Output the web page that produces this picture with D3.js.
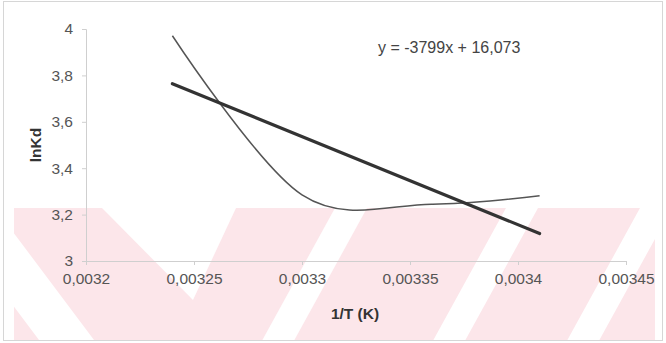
<!DOCTYPE html>
<html>
<head>
<meta charset="utf-8">
<script src="https://cdn.jsdelivr.net/npm/d3@7"></script>
<style>
  html, body { margin: 0; padding: 0; background: #fff; }
  svg { display: block; }
</style>
</head>
<body>
<svg id="chart" width="666" height="343"></svg>
<script>
// Measured values: ln Kd against reciprocal temperature
const invT = [0.00324, 0.0033, 0.00336, 0.00341];
const lnKd = [3.971, 3.285, 3.245, 3.281];

// Linear trendline fitted to the points
const slope = -3799;
const intercept = 16.073;

const xTicks = [0.0032, 0.00325, 0.0033, 0.00335, 0.0034, 0.00345];
const yTicks = [3, 3.2, 3.4, 3.6, 3.8, 4];

const xTitle = "1/T (K)";
const yTitle = "lnKd";
const equationText = "y = -3799x + 16,073";

const svg = d3.select("#chart");
const font = "'Liberation Sans', Arial, sans-serif";

const x = d3.scaleLinear().domain([0.0032, 0.00345]).range([86, 626]);
const y = d3.scaleLinear().domain([3, 4]).range([261, 29]);

const comma = d => String(d).replace(".", ",");

// Light pink diagonal background emblem in the lower part of the frame
const band = svg.append("g");
const bandTop = 208, bandBot = 341, bh = bandBot - bandTop;
band.append("rect")
  .attr("x", 14).attr("y", bandTop)
  .attr("width", 641).attr("height", bh)
  .attr("fill", "#fce6ea");
const poly = p => "M" + p.map(q => q.join(",")).join("L") + "Z";
// gap slanting down-right on the left
const kL = 0.75;
band.append("path")
  .attr("d", poly([[-60, bandTop], [-5, bandTop], [-5 + kL * bh, bandBot], [-60 + kL * bh, bandBot]]))
  .attr("fill", "#fff");
// V-shaped notch
band.append("path")
  .attr("d", poly([[102, bandTop], [236, bandTop], [193, 300]]))
  .attr("fill", "#fff");
// gaps slanting up-right
const kR = 0.55;
[[335, 32], [506, 32], [640, 32]].forEach(([a, w]) => {
  band.append("path")
    .attr("d", poly([[a, bandTop], [a + w, bandTop], [a + w - kR * bh, bandBot], [a - kR * bh, bandBot]]))
    .attr("fill", "#fff");
});

// Chart frame
svg.append("rect")
  .attr("x", 3.5).attr("y", 1.5)
  .attr("width", 659).attr("height", 339)
  .attr("fill", "none").attr("stroke", "#d6d6d6").attr("stroke-width", 1);

// Axes
const xAxis = d3.axisBottom(x).tickValues(xTicks).tickFormat(comma).tickSize(4).tickPadding(8);
const yAxis = d3.axisLeft(y).tickValues(yTicks).tickFormat(comma).tickSize(4).tickPadding(9);

const gx = svg.append("g").attr("transform", `translate(0,${y(3)})`).call(xAxis);
const gy = svg.append("g").attr("transform", `translate(${x(0.0032)},0)`).call(yAxis);

[gx, gy].forEach(g => {
  g.select(".domain").attr("stroke", "#cfcfcf");
  g.selectAll(".tick line").attr("stroke", "#cfcfcf");
  g.selectAll(".tick text")
    .attr("fill", "#555")
    .style("font-family", font)
    .style("font-size", "15.5px");
});

// Smoothed data curve
const pts = invT.map((v, i) => [x(v), y(lnKd[i])]);
svg.append("path")
  .attr("d", d3.line().curve(d3.curveCatmullRom.alpha(0))(pts))
  .attr("fill", "none")
  .attr("stroke", "#555")
  .attr("stroke-width", 1.5);

// Trendline
const x0 = invT[0], x1 = invT[invT.length - 1];
svg.append("line")
  .attr("x1", x(x0)).attr("y1", y(slope * x0 + intercept))
  .attr("x2", x(x1)).attr("y2", y(slope * x1 + intercept))
  .attr("stroke", "#333")
  .attr("stroke-width", 3.2)
  .attr("stroke-linecap", "round");

// Equation label
svg.append("text")
  .attr("x", 378).attr("y", 53)
  .attr("fill", "#444")
  .style("font-family", font)
  .style("font-size", "16px")
  .text(equationText);

// Axis titles
svg.append("text")
  .attr("x", 355).attr("y", 319)
  .attr("text-anchor", "middle")
  .attr("fill", "#333")
  .style("font-family", font)
  .style("font-size", "15.5px")
  .style("font-weight", "bold")
  .text(xTitle);

svg.append("text")
  .attr("transform", "translate(41,145) rotate(-90)")
  .attr("text-anchor", "middle")
  .attr("fill", "#333")
  .style("font-family", font)
  .style("font-size", "15.5px")
  .style("font-weight", "bold")
  .text(yTitle);
</script>
</body>
</html>
